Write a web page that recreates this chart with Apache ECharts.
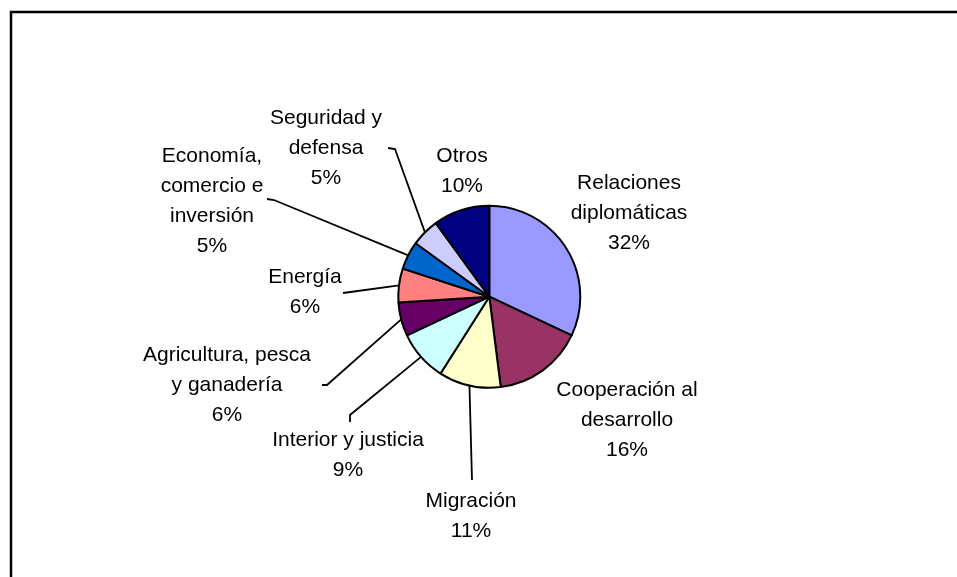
<!DOCTYPE html>
<html>
<head>
<meta charset="utf-8">
<script src="https://cdn.jsdelivr.net/npm/echarts@6/dist/echarts.min.js"></script>
<style>
html,body{margin:0;padding:0;background:#fff;}
#chart{width:957px;height:577px;}
</style>
</head>
<body>
<div id="chart"></div>
<script>
// Data
var categories = [
  'Relaciones\ndiplomáticas',
  'Cooperación al\ndesarrollo',
  'Migración',
  'Interior y justicia',
  'Agricultura, pesca\ny ganadería',
  'Energía',
  'Economía,\ncomercio e\ninversión',
  'Seguridad y\ndefensa',
  'Otros'
];
var values = [32, 16, 11, 9, 6, 6, 5, 5, 10];
var colors = ['#9999FF', '#993366', '#FFFFCC', '#CCFFFF', '#660066', '#FF8080', '#0066CC', '#CCCCFF', '#000080'];

// Label placement (layout/style only)
var labelPos = [
  [629, 213], [627, 420], [471, 516], [348, 455], [227, 385],
  [305, 292], [212, 201], [326, 148], [462, 171]
];
// label-side leader line points (null = no leader line)
var leaderPts = [
  null, null,
  [[472, 480]],
  [[350, 415], [350, 422]],
  [[327, 385], [322, 385]],
  [[343, 293]],
  [[274, 200], [267, 199]],
  [[395, 149], [388, 148]],
  null
];

var chart = echarts.init(document.getElementById('chart'), null, {renderer: 'canvas'});
var data = categories.map(function (c, i) {
  return {
    name: c,
    value: values[i],
    itemStyle: {color: colors[i]},
    labelLine: {show: leaderPts[i] !== null}
  };
});

chart.setOption({
  animation: false,
  backgroundColor: '#ffffff',
  graphic: [{
    type: 'rect',
    shape: {x: 11, y: 12, width: 1000, height: 700},
    style: {fill: 'none', stroke: '#000', lineWidth: 2.5},
    silent: true
  }],
  series: [{
    type: 'pie',
    center: [489.3, 296.7],
    radius: [0, 91],
    startAngle: 90,
    clockwise: true,
    avoidLabelOverlap: false,
    data: data,
    itemStyle: {borderColor: '#000', borderWidth: 2},
    label: {
      show: true,
      position: 'outside',
      formatter: '{b}\n{d}%',
      color: '#000',
      fontFamily: 'Liberation Sans, Arial, sans-serif',
      fontSize: 21,
      lineHeight: 30,
      align: 'center'
    },
    labelLine: {
      show: true,
      length: 10,
      length2: 10,
      lineStyle: {color: '#000', width: 1.8}
    },
    labelLayout: function (params) {
      var i = params.dataIndex;
      var p = labelPos[i];
      var res = {x: p[0], y: p[1], align: 'center', verticalAlign: 'middle'};
      if (leaderPts[i] && params.labelLinePoints) {
        var start = params.labelLinePoints[0];
        var pts = [start].concat(leaderPts[i]);
        if (pts.length === 2) pts = [pts[0], pts[1], pts[1]];
        res.labelLinePoints = pts;
      }
      return res;
    }
  }]
});
</script>
</body>
</html>
